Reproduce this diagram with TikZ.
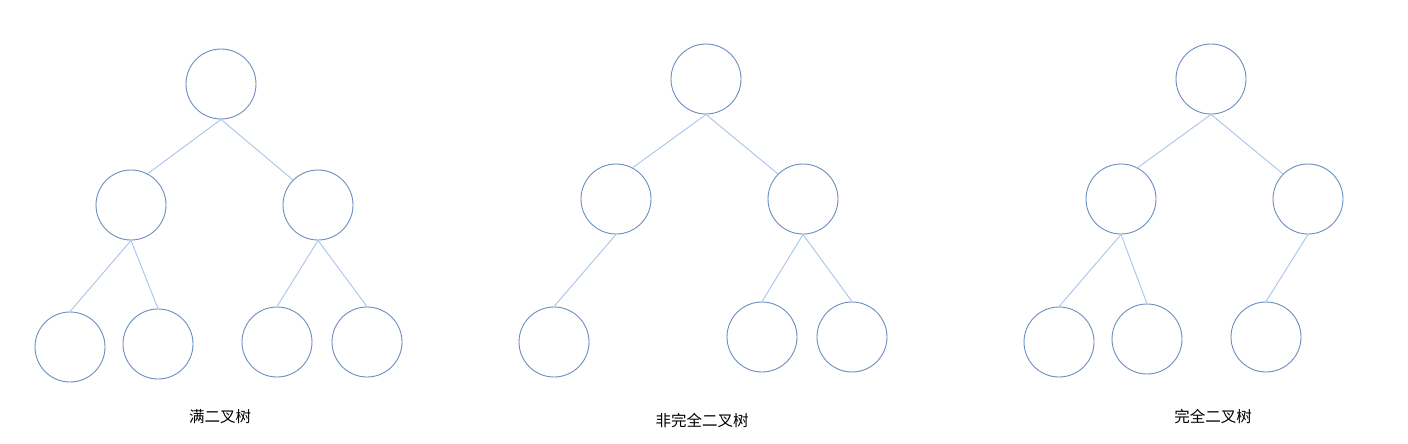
\documentclass[tikz,border=0pt]{standalone}
\usepackage{fontspec}
\newfontfamily\cjk{Noto Sans CJK SC}
\usepackage{tikz}
\definecolor{nodeblue}{HTML}{6C8EBF}
\definecolor{edgeblue}{HTML}{A9C4EB}
\tikzset{
  tnode/.style={circle,draw=nodeblue,line width=0.9pt,fill=white,minimum size=70pt,inner sep=0pt},
  tedge/.style={draw=edgeblue,line width=0.9pt},
  tlabel/.style={font=\cjk\fontsize{15.5}{18}\selectfont,text=black}
}
\begin{document}
\begin{tikzpicture}[x=1pt,y=-1pt]
\useasboundingbox[fill=white](0,0) rectangle (1408,444);
%full binary tree
\node[tnode] (a1) at (221,84) {};
\node[tnode] (a2) at (131,205) {};
\node[tnode] (a3) at (318,205) {};
\node[tnode] (a4) at (70,347) {};
\node[tnode] (a5) at (158,344) {};
\node[tnode] (a6) at (277,342) {};
\node[tnode] (a7) at (367,342) {};
\draw[tedge](a1.south)--(a2.62);
\draw[tedge](a1.south)--(a3.135);
\draw[tedge](a2.south)--(a4.north);
\draw[tedge](a2.south)--(a5.north);
\draw[tedge](a3.south)--(a6.north);
\draw[tedge](a3.south)--(a7.north);
%not complete binary tree
\node[tnode] (b1) at (706,79) {};
\node[tnode] (b2) at (616,199) {};
\node[tnode] (b3) at (803,199) {};
\node[tnode] (b4) at (554,342) {};
\node[tnode] (b6) at (762,337) {};
\node[tnode] (b7) at (852,337) {};
\draw[tedge](b1.south)--(b2.62);
\draw[tedge](b1.south)--(b3.135);
\draw[tedge](b2.south)--(b4.north);
\draw[tedge](b3.south)--(b6.north);
\draw[tedge](b3.south)--(b7.north);
%complete binary tree
\node[tnode] (c1) at (1211,79) {};
\node[tnode] (c2) at (1121,199) {};
\node[tnode] (c3) at (1308,199) {};
\node[tnode] (c4) at (1059,342) {};
\node[tnode] (c5) at (1147,339) {};
\node[tnode] (c6) at (1266,337) {};
\draw[tedge](c1.south)--(c2.62);
\draw[tedge](c1.south)--(c3.135);
\draw[tedge](c2.south)--(c4.north);
\draw[tedge](c2.south)--(c5.north);
\draw[tedge](c3.south)--(c6.north);
%labels
\node[tlabel] (la) at (220,417) {满二叉树};
\node[tlabel] (lb) at (702,421) {非完全二叉树};
\node[tlabel] (lc) at (1213,417) {完全二叉树};
\end{tikzpicture}
\end{document}
